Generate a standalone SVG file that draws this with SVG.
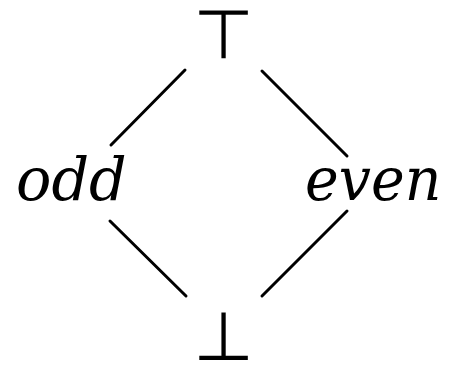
<svg xmlns="http://www.w3.org/2000/svg" width="451" height="365" viewBox="0 0 451 365">
<style>
.e{stroke:#000;stroke-width:3;stroke-linecap:round;fill:none}
</style>
<rect width="451" height="365" fill="#fff"/>
<g id="connectors">
<line class="e" x1="185" y1="70" x2="111" y2="145"/>
<line class="e" x1="262" y1="71" x2="347" y2="156"/>
<line class="e" x1="110" y1="221" x2="186" y2="296"/>
<line class="e" x1="347" y1="211" x2="262" y2="296"/>
</g>
<g id="top"><text font-family="DejaVu Sans" font-size="68" text-anchor="middle" transform="translate(223.5,57.5) scale(1.02,1)">⊤</text></g>
<g id="odd"><text font-family="DejaVu Serif, serif" font-style="italic" font-size="60" transform="translate(16,200) scale(0.98,1)">odd</text></g>
<g id="even"><text font-family="DejaVu Serif, serif" font-style="italic" font-size="60" transform="translate(305,200) scale(0.95,1)">even</text></g>
<g id="bottom"><text font-family="DejaVu Sans" font-size="68" text-anchor="middle" transform="translate(223.5,359.5) scale(1.02,1)">⊥</text></g>
</svg>
